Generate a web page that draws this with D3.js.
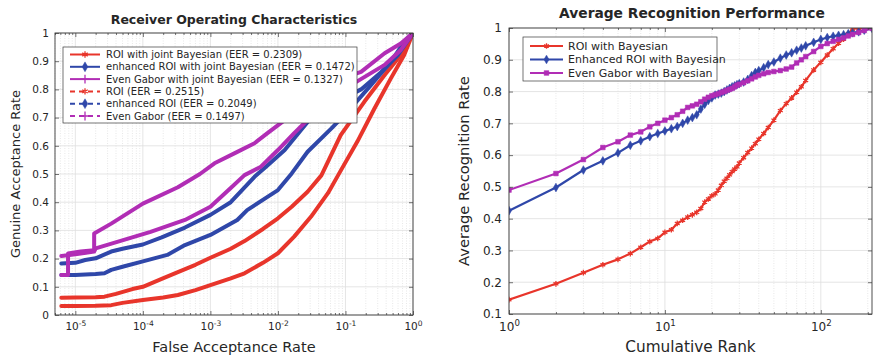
<!DOCTYPE html>
<html><head><meta charset="utf-8">
<script src="https://cdn.jsdelivr.net/npm/d3@7"></script>
<style>
body{margin:0;background:#fff}
text{font-family:"DejaVu Sans",sans-serif;fill:#262626}
</style>
</head><body><svg id="c" width="873" height="356"></svg>
<script>
// ---------------- LEFT: ROC data ----------------
const roiJbFar = [6.2e-6,1e-5,2e-5,2.7e-5,4e-5,7e-5,1e-4,1.9e-4,3.3e-4,6e-4,1e-3,2e-3,3.2e-3,6e-3,1e-2,1.6e-2,2.75e-2,4.4e-2,8.5e-2,0.19,0.38,0.66,1];
const roiJbGar = [0.061,0.062,0.063,0.065,0.075,0.092,0.10,0.128,0.152,0.178,0.203,0.235,0.262,0.305,0.343,0.384,0.437,0.495,0.638,0.756,0.851,0.922,1];
const roiFar = [6.2e-6,1e-5,2e-5,3.4e-5,5e-5,1e-4,2e-4,3.3e-4,6e-4,1e-3,2e-3,3.2e-3,6e-3,1e-2,1.74e-2,3.1e-2,5.5e-2,7.8e-2,0.15,0.27,0.47,0.74,1];
const roiGar = [0.032,0.032,0.033,0.035,0.043,0.053,0.062,0.071,0.088,0.106,0.13,0.148,0.185,0.219,0.278,0.349,0.432,0.496,0.615,0.733,0.839,0.922,1];
const eroiJbFar = [6.2e-6,1e-5,1.4e-5,2e-5,3.4e-5,5e-5,1e-4,1.9e-4,4.2e-4,1e-3,2e-3,4.5e-3,7e-3,1.26e-2,2.2e-2,3.5e-2,0.17,0.34,0.6,1];
const eroiJbGar = [0.183,0.185,0.195,0.201,0.225,0.235,0.25,0.275,0.31,0.355,0.40,0.49,0.53,0.585,0.656,0.715,0.80,0.862,0.922,1];
const eroiFar = [6.2e-6,1e-5,2e-5,2.7e-5,3.4e-5,5e-5,1e-4,2.3e-4,4.2e-4,1e-3,2.5e-3,3.5e-3,1e-2,1.6e-2,2.75e-2,6.2e-2,0.12,0.24,0.47,0.75,1];
const eroiGar = [0.142,0.142,0.145,0.148,0.16,0.171,0.19,0.213,0.248,0.284,0.337,0.372,0.443,0.502,0.579,0.662,0.733,0.816,0.898,0.97,1];
const gaborJbFar = [6.2e-6,7.8e-6,7.8e-6,1.2e-5,1.9e-5,1.9e-5,3.4e-5,1e-4,3.3e-4,7e-4,1.15e-3,2.3e-3,4.5e-3,7e-3,1.26e-2,3e-2,7e-2,0.17,0.38,0.66,1];
const gaborJbGar = [0.142,0.142,0.218,0.225,0.23,0.289,0.324,0.395,0.453,0.50,0.538,0.574,0.609,0.645,0.691,0.765,0.83,0.862,0.928,0.963,1];
const gaborFar = [6.2e-6,1e-5,1.9e-5,2e-5,4.3e-5,1.3e-4,4.2e-4,1e-3,2e-3,3.2e-3,5.6e-3,1e-2,1.74e-2,3.1e-2,6e-2,0.16,0.38,0.66,1];
const gaborGar = [0.209,0.215,0.225,0.236,0.26,0.295,0.337,0.384,0.45,0.496,0.526,0.585,0.645,0.704,0.77,0.833,0.887,0.94,1];

const rocNames = ["ROI with joint Bayesian (EER = 0.2309)","enhanced ROI with joint Bayesian (EER = 0.1472)","Even Gabor with joint Bayesian (EER = 0.1327)","ROI (EER = 0.2515)","enhanced ROI (EER = 0.2049)","Even Gabor (EER = 0.1497)"];
const rocXTickExp = [-5,-4,-3,-2,-1,0];
const rocYTicks = [0,0.1,0.2,0.3,0.4,0.5,0.6,0.7,0.8,0.9,1];

// ---------------- RIGHT: CMC data ----------------
const ranks = [1,2,3,4,5,6,7,8,9,10,11,12,13,14,15,16,17,18,19,20,21,22,23,24,25,26,27,28,29,30,32,34,36,38,40,43,46,50,55,60,65,70,75,80,90,100,110,120,130,140,150,160,175,190,213];
const cmcRoi = [0.145,0.195,0.23,0.255,0.272,0.29,0.31,0.328,0.338,0.357,0.365,0.385,0.395,0.405,0.412,0.42,0.432,0.452,0.462,0.472,0.478,0.49,0.505,0.518,0.527,0.538,0.548,0.556,0.563,0.575,0.592,0.608,0.622,0.636,0.65,0.668,0.687,0.71,0.74,0.762,0.78,0.798,0.815,0.835,0.868,0.892,0.915,0.935,0.952,0.965,0.982,0.997,1,1,1];
const cmcEroi = [0.425,0.498,0.553,0.582,0.607,0.631,0.645,0.658,0.668,0.676,0.683,0.69,0.70,0.71,0.718,0.727,0.745,0.76,0.772,0.78,0.789,0.792,0.795,0.80,0.805,0.81,0.815,0.818,0.822,0.825,0.83,0.838,0.85,0.86,0.866,0.875,0.885,0.893,0.905,0.915,0.922,0.93,0.937,0.944,0.955,0.964,0.97,0.974,0.977,0.979,0.982,0.985,0.988,0.993,0.999];
const cmcGabor = [0.49,0.542,0.586,0.624,0.642,0.663,0.673,0.689,0.70,0.71,0.718,0.727,0.738,0.75,0.755,0.76,0.768,0.776,0.782,0.787,0.79,0.793,0.797,0.80,0.804,0.807,0.81,0.815,0.82,0.823,0.828,0.834,0.84,0.846,0.851,0.856,0.86,0.863,0.866,0.871,0.877,0.89,0.90,0.91,0.926,0.942,0.951,0.958,0.964,0.969,0.975,0.98,0.986,0.992,0.999];
const cmcNames = ["ROI with Bayesian","Enhanced ROI with Bayesian","Even Gabor with Bayesian"];
const cmcXTicks = [1,10,100];
const cmcYTicks = [0.1,0.2,0.3,0.4,0.5,0.6,0.7,0.8,0.9,1];

// ---------------- drawing ----------------
const RED = "#e8352b", BLUE = "#2f47a9", MAG = "#b12db5", AX = "#3a3a3a";
const svg = d3.select("#c");
const fmtY = d => (d === 0 || d === 1) ? String(d) : d.toFixed(1);

function drawPanel(o) {
  const g = svg.append("g");
  const {x, y, box} = o;
  const clipId = "clip" + o.id;
  svg.append("clipPath").attr("id", clipId).append("rect")
    .attr("x", box.x0).attr("y", box.y0).attr("width", box.x1 - box.x0).attr("height", box.y1 - box.y0);
  const allX = x.ticks().filter(v => v >= x.domain()[0] && v <= x.domain()[1]);
  const minorX = allX.filter(v => Math.abs(Math.log10(v) - Math.round(Math.log10(v))) > 1e-9);
  const majorX = o.xMajor;
  const grid = g.append("g");
  grid.selectAll(".mx").data(minorX).join("line")
    .attr("x1", d => x(d)).attr("x2", d => x(d)).attr("y1", box.y0).attr("y2", box.y1)
    .attr("stroke", "#d6d6d6").attr("stroke-width", 0.6).attr("stroke-dasharray", "1,1.5");
  grid.selectAll(".Mx").data(majorX).join("line")
    .attr("x1", d => x(d)).attr("x2", d => x(d)).attr("y1", box.y0).attr("y2", box.y1)
    .attr("stroke", "#dedede").attr("stroke-width", 0.8);
  grid.selectAll(".My").data(o.yTicks).join("line")
    .attr("x1", box.x0).attr("x2", box.x1).attr("y1", d => y(d)).attr("y2", d => y(d))
    .attr("stroke", "#dedede").attr("stroke-width", 0.8);
  const plot = g.append("g").attr("clip-path", `url(#${clipId})`);
  o.drawCurves(plot);
  g.append("rect").attr("x", box.x0).attr("y", box.y0).attr("width", box.x1 - box.x0).attr("height", box.y1 - box.y0)
    .attr("fill", "none").attr("stroke", AX).attr("stroke-width", 0.9);
  const styleAxis = sel => { sel.select(".domain").remove(); sel.selectAll(".tick line").attr("stroke", AX).attr("stroke-width", 0.7); };
  const bx = g.append("g").attr("transform", `translate(0,${box.y1})`)
    .call(d3.axisBottom(x).tickValues(majorX).tickSizeInner(-4).tickSizeOuter(0).tickPadding(8).tickFormat(() => "10"));
  styleAxis(bx);
  bx.selectAll(".tick text").attr("font-size", o.tickFs).attr("fill", "#262626")
    .append("tspan").attr("dy", "-0.55em").attr("font-size", "0.72em").text(d => Math.round(Math.log10(d)));
  const bxm = g.append("g").attr("transform", `translate(0,${box.y1})`)
    .call(d3.axisBottom(x).tickValues(minorX).tickSizeInner(-2).tickSizeOuter(0).tickFormat(""));
  styleAxis(bxm);
  const tx = g.append("g").attr("transform", `translate(0,${box.y0})`)
    .call(d3.axisTop(x).tickValues(majorX).tickSizeInner(-4).tickSizeOuter(0).tickFormat(""));
  styleAxis(tx);
  const txm = g.append("g").attr("transform", `translate(0,${box.y0})`)
    .call(d3.axisTop(x).tickValues(minorX).tickSizeInner(-2).tickSizeOuter(0).tickFormat(""));
  styleAxis(txm);
  const ly = g.append("g").attr("transform", `translate(${box.x0},0)`)
    .call(d3.axisLeft(y).tickValues(o.yTicks).tickSizeInner(-4).tickSizeOuter(0).tickPadding(o.yPad).tickFormat(fmtY));
  styleAxis(ly);
  ly.selectAll(".tick text").attr("font-size", o.tickFs).attr("fill", "#262626");
  const ry = g.append("g").attr("transform", `translate(${box.x1},0)`)
    .call(d3.axisRight(y).tickValues(o.yTicks).tickSizeInner(-4).tickSizeOuter(0).tickFormat(""));
  styleAxis(ry);
  g.append("text").attr("x", o.titleX).attr("y", o.titleY).attr("text-anchor", "middle")
    .attr("font-weight", "bold").attr("font-size", o.titleFs).text(o.title);
  g.append("text").attr("x", (box.x0 + box.x1) / 2).attr("y", o.xLabY).attr("text-anchor", "middle")
    .attr("font-size", o.xLabFs).text(o.xLab);
  g.append("text").attr("transform", `translate(${o.yLabX},${(box.y0 + box.y1) / 2}) rotate(-90)`)
    .attr("text-anchor", "middle").attr("font-size", o.yLabFs).text(o.yLab);
  return g;
}

function marker(sel, type, color, size) {
  const sym = {star: d3.symbolAsterisk, diamond: d3.symbolDiamond, plus: d3.symbolPlus, square: d3.symbolSquare}[type];
  const filled = type === "diamond" || type === "square";
  return sel.append("path").attr("d", d3.symbol(sym, size))
    .attr("fill", filled ? color : "none").attr("stroke", color).attr("stroke-width", filled ? 0.5 : 1.3);
}

// LEFT panel
const boxL = {x0: 55, x1: 413, y0: 33, y1: 315};
const xL = d3.scaleLog().domain([5e-6, 1]).range([boxL.x0, boxL.x1]);
const yL = d3.scaleLinear().domain([0, 1]).range([boxL.y1, boxL.y0]);
const rocSeries = [
  {far: roiFar, gar: roiGar, color: RED, dash: true, m: "star"},
  {far: roiJbFar, gar: roiJbGar, color: RED, dash: false, m: "star"},
  {far: eroiFar, gar: eroiGar, color: BLUE, dash: true, m: "diamond"},
  {far: eroiJbFar, gar: eroiJbGar, color: BLUE, dash: false, m: "diamond"},
  {far: gaborFar, gar: gaborGar, color: MAG, dash: true, m: "plus"},
  {far: gaborJbFar, gar: gaborJbGar, color: MAG, dash: false, m: "plus"}
];
drawPanel({
  id: "L", x: xL, y: yL, box: boxL,
  xMajor: rocXTickExp.map(e => Math.pow(10, e)), yTicks: rocYTicks,
  tickFs: 10.5, yPad: 6, titleFs: 12.5, xLabFs: 14.5, yLabFs: 13,
  title: "Receiver Operating Characteristics", titleX: 234, titleY: 24,
  xLab: "False Acceptance Rate", xLabY: 352,
  yLab: "Genuine Acceptance Rate", yLabX: 20,
  drawCurves: p => {
    const line = d3.line().x(d => xL(d[0])).y(d => yL(d[1]));
    rocSeries.forEach(s => {
      const pts = d3.zip(s.far, s.gar);
      p.append("path").datum(pts).attr("d", line).attr("fill", "none")
        .attr("stroke", s.color).attr("stroke-width", 4).attr("stroke-linejoin", "round").attr("stroke-linecap", "round");
    });
  }
});
const lgL = svg.append("g");
lgL.append("rect").attr("x", 63).attr("y", 47).attr("width", 294).attr("height", 76)
  .attr("fill", "#fff").attr("stroke", AX).attr("stroke-width", 0.7);
const legOrder = [1, 3, 5, 0, 2, 4];
rocNames.forEach((name, i) => {
  const s = rocSeries[legOrder[i]];
  const yy = 54.5 + i * 12.3;
  lgL.append("line").attr("x1", 70).attr("x2", 100).attr("y1", yy).attr("y2", yy)
    .attr("stroke", s.color).attr("stroke-width", 2).attr("stroke-dasharray", s.dash ? "5,4" : null);
  marker(lgL.append("g").attr("transform", `translate(85,${yy})`), s.m, s.color, 28);
  lgL.append("text").attr("x", 106).attr("y", yy + 3.5).attr("font-size", 10).text(name);
});

// RIGHT panel
const boxR = {x0: 509, x1: 872, y0: 28, y1: 314};
const xR = d3.scaleLog().domain([1, 213]).range([boxR.x0, boxR.x1]);
const yR = d3.scaleLinear().domain([0.1, 1]).range([boxR.y1, boxR.y0]);
const cmcSeries = [
  {v: cmcRoi, color: RED, m: "star"},
  {v: cmcEroi, color: BLUE, m: "diamond"},
  {v: cmcGabor, color: MAG, m: "square"}
];
drawPanel({
  id: "R", x: xR, y: yR, box: boxR,
  xMajor: cmcXTicks, yTicks: cmcYTicks,
  tickFs: 12, yPad: 7, titleFs: 13.8, xLabFs: 15.3, yLabFs: 14.7,
  title: "Average Recognition Performance", titleX: 692, titleY: 18,
  xLab: "Cumulative Rank", xLabY: 352,
  yLab: "Average Recognition Rate", yLabX: 469,
  drawCurves: p => {
    const line = d3.line().x(d => xR(d[0])).y(d => yR(d[1]));
    cmcSeries.forEach(s => {
      const pts = d3.zip(ranks, s.v);
      p.append("path").datum(pts).attr("d", line).attr("fill", "none")
        .attr("stroke", s.color).attr("stroke-width", 2.2).attr("stroke-linejoin", "round");
      p.selectAll(null).data(pts).join("g")
        .attr("transform", d => `translate(${xR(d[0])},${yR(d[1])})`)
        .each(function () { marker(d3.select(this), s.m, s.color, 22); });
    });
  }
});
const lgR = svg.append("g");
lgR.append("rect").attr("x", 523).attr("y", 37).attr("width", 194).attr("height", 44)
  .attr("fill", "#fff").attr("stroke", AX).attr("stroke-width", 0.7);
cmcNames.forEach((name, i) => {
  const s = cmcSeries[i];
  const yy = 46 + i * 13.5;
  lgR.append("line").attr("x1", 530).attr("x2", 563).attr("y1", yy).attr("y2", yy)
    .attr("stroke", s.color).attr("stroke-width", 2);
  marker(lgR.append("g").attr("transform", `translate(546.5,${yy})`), s.m, s.color, 22);
  lgR.append("text").attr("x", 568).attr("y", yy + 3.8).attr("font-size", 11).text(name);
});
</script></body></html>
